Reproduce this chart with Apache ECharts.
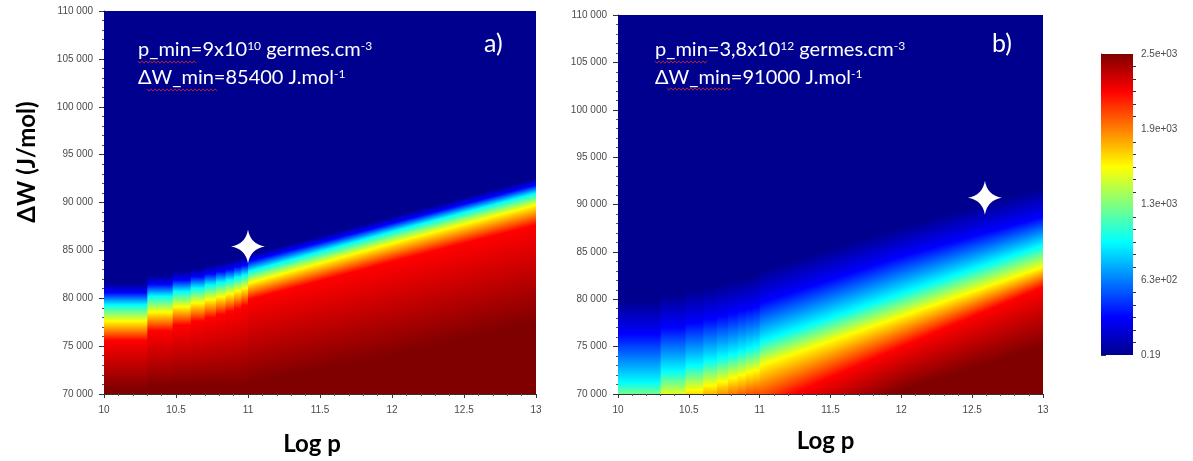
<!DOCTYPE html>
<html><head><meta charset="utf-8">
<script src="https://cdn.jsdelivr.net/npm/echarts@6/dist/echarts.min.js"></script>
<style>html,body{margin:0;padding:0;background:#fff}#c{width:1193px;height:461px}</style>
</head><body><div id="c"></div>
<script>
// ---------------- data ----------------
const colorMin = 0.19, colorMax = 2500;
const cbTickValues = [0.19, 625, 1250, 1875, 2500];
const cbTickLabels = ['0.19', '6.3e+02', '1.3e+03', '1.9e+03', '2.5e+03'];
// jet key colours and the colour-scale fraction at which each is reached
const levelFractions = [0, 0.125, 0.375, 0.625, 0.875, 1];
const jetColors = ['#00008F', '#0000FF', '#00FFFF', '#FFFF00', '#FF0000', '#800000'];

// Log p: stepped columns (p sampled every 1e10 germes/cm3) then a smooth part
const stepEdges = [10, 10.301, 10.477, 10.602, 10.699, 10.778, 10.845, 10.903, 10.954, 11];
const smoothX = [11, 12, 13];

// ΔW (J/mol) at which each jet key colour is reached (dark blue, blue, cyan, yellow, red, dark red)
const aStepContours = [
  [81600, 80600, 79300, 77600, 75600, 70500],
  [82400, 81450, 80200, 78550, 76600, 70800],
  [82850, 81900, 80700, 79100, 77200, 70900],
  [83150, 82250, 81050, 79500, 77600, 70900],
  [83450, 82550, 81380, 79850, 77950, 70900],
  [83700, 82800, 81660, 80150, 78300, 70900],
  [83900, 83000, 81900, 80450, 78600, 70900],
  [84100, 83250, 82170, 80750, 78900, 70900],
  [84300, 83450, 82420, 81050, 79250, 71000]
];
const aSmoothContours = [
  [84520, 83820, 82780, 81560, 79820, 71200],
  [88520, 87820, 86960, 85740, 83820, 74000],
  [92530, 91830, 90960, 89740, 87650, 77500]
];
const bStepContours = [
  [79800, 76300, 71200, 68600, 65500, 60000],
  [80500, 77000, 72400, 69700, 66600, 61000],
  [81000, 77500, 73000, 70400, 67300, 61700],
  [81300, 77900, 73500, 70900, 67800, 62200],
  [81600, 78200, 73900, 71300, 68200, 62600],
  [81900, 78500, 74200, 71700, 68500, 63000],
  [82100, 78800, 74500, 72000, 68700, 63300],
  [82300, 79000, 74800, 72300, 68900, 63600],
  [82500, 79200, 75000, 72500, 69000, 63800]
];
const bSmoothContours = [
  [83000, 79600, 75500, 73000, 68500, 64000],
  [87600, 84500, 80600, 78200, 75000, 70400],
  [91800, 88700, 85700, 83400, 81300, 75000]
];
const aMinPoint = [[11, 85400]];
const bMinPoint = [[12.59, 90700]];

// --------------- build segment tables ----------------
function segments(stepC, smoothC) {
  const out = [];
  for (let i = 0; i < stepC.length; i++) out.push([stepEdges[i], stepEdges[i + 1], ...stepC[i], ...stepC[i]]);
  for (let j = 0; j < smoothX.length - 1; j++) out.push([smoothX[j], smoothX[j + 1], ...smoothC[j], ...smoothC[j + 1]]);
  return out;
}
const Y_MIN = 70000, Y_MAX = 110000;
const EXT = 30000; // draw beyond the axis range; the series is clipped to the grid

// each segment: a column whose colour changes vertically through the jet key colours at the
// contour heights; segments with sloping contours are drawn as thin 1-px slices of straight edges
function renderField(params, api) {
  const x0 = api.value(0), x1 = api.value(1);
  const la = [], lb = [];
  for (let k = 0; k < 6; k++) { la.push(api.value(2 + k)); lb.push(api.value(8 + k)); }
  const flat = la.every((v, i) => v === lb[i]);
  const pxW = api.coord([x1, Y_MIN])[0] - api.coord([x0, Y_MIN])[0];
  const n = flat ? 1 : Math.max(1, Math.ceil(pxW));
  const children = [];
  for (let s = 0; s < n; s++) {
    const t0 = s / n, t1 = (s + 1) / n, tm = (t0 + t1) / 2;
    const xa = x0 + (x1 - x0) * t0, xb = x0 + (x1 - x0) * t1, xm = x0 + (x1 - x0) * tm;
    const pTop = api.coord([xa, Y_MAX + EXT]);
    const pBot = api.coord([xb, Y_MIN - EXT]);
    const H = pBot[1] - pTop[1];
    let prev = 0;
    const stops = la.map((v, k) => {
      const y = api.coord([xm, v + (lb[k] - v) * tm])[1];
      let off = Math.min(1, Math.max(prev, (y - pTop[1]) / H));
      prev = off;
      return { offset: off, color: jetColors[k] };
    });
    children.push({ type: 'rect',
      shape: { x: pTop[0], y: pTop[1], width: pBot[0] - pTop[0] + 1.5, height: H },
      style: { fill: { type: 'linear', global: true, x: 0, y: pTop[1], x2: 0, y2: pBot[1], colorStops: stops } } });
  }
  return { type: 'group', children: children };
}

function renderColorbar(params, api) {
  const p1 = api.coord([api.value(0), api.value(3)]);
  const p2 = api.coord([api.value(1), api.value(2)]);
  const stops = levelFractions.map((f, i) => ({ offset: 1 - f, color: jetColors[i] })).reverse();
  return { type: 'rect', shape: { x: p1[0], y: p1[1], width: p2[0] - p1[0], height: p2[1] - p1[1] },
    style: { fill: { type: 'linear', global: true, x: 0, y: p1[1], x2: 0, y2: p2[1], colorStops: stops } } };
}

const fmtThousands = v => String(v).replace(/\B(?=(\d{3})+(?!\d))/g, ' ');
const tickFont = { fontFamily: 'Liberation Sans', fontSize: 10, color: '#4a4a4a' };
const axisLineStyle = { color: '#333', width: 1 };

function xAxisDef(gi, gap, pad) {
  return { type: 'value', gridIndex: gi, min: 10, max: 13, interval: 0.5,
    name: 'Log p', nameLocation: 'middle', nameGap: gap,
    nameTextStyle: { fontFamily: 'Lato', fontWeight: 'bold', fontSize: 24, color: '#000', padding: [0, pad, 0, 0] },
    axisLine: { show: true, onZero: false, lineStyle: axisLineStyle },
    axisTick: { show: true, length: 4, lineStyle: axisLineStyle },
    minorTick: { show: true, splitNumber: 5, length: 2, lineStyle: { color: '#555' } },
    splitLine: { show: false }, minorSplitLine: { show: false },
    axisLabel: Object.assign({ margin: 11, formatter: v => String(v) }, tickFont) };
}
function yAxisDef(gi) {
  return { type: 'value', gridIndex: gi, min: Y_MIN, max: Y_MAX, interval: 5000,
    axisLine: { show: true, onZero: false, lineStyle: axisLineStyle },
    axisTick: { show: true, length: 5, lineStyle: axisLineStyle },
    minorTick: { show: true, splitNumber: 5, length: 2, lineStyle: { color: '#555' } },
    splitLine: { show: false }, minorSplitLine: { show: false },
    axisLabel: Object.assign({ margin: 11, formatter: fmtThousands }, tickFont) };
}

// colorbar minor tick values (6 subdivisions per labelled interval)
const cbMinor = [];
for (let i = 0; i < cbTickValues.length - 1; i++) {
  for (let s = 1; s < 6; s++) cbMinor.push(cbTickValues[i] + (cbTickValues[i + 1] - cbTickValues[i]) * s / 6);
}

function squiggle(x0, x1, y) {
  const pts = [];
  for (let x = x0, k = 0; x <= x1; x += 2, k++) pts.push([x, y + (k % 2 ? 1.2 : -1.2)]);
  return { type: 'polyline', shape: { points: pts }, style: { stroke: '#d03030', lineWidth: 0.8, fill: null }, z: 100 };
}
const richStyle = {
  t: { fontFamily: 'Lato', fontSize: 20, fill: '#fff' },
  s: { fontFamily: 'Lato', fontSize: 12, fill: '#fff', verticalAlign: 'top' }
};
function annText(x, y, text) {
  return { type: 'text', x: x, y: y, z: 100,
    style: { text: text, rich: richStyle, fill: '#fff', fontFamily: 'Lato', fontSize: 20 } };
}

const chart = echarts.init(document.getElementById('c'), null, { renderer: 'canvas' });
const starPath = 'path://M0,-16 Q2.2,-2.2 16,0 Q2.2,2.2 0,16 Q-2.2,2.2 -16,0 Q-2.2,-2.2 0,-16 Z';

chart.setOption({
  animation: false,
  backgroundColor: '#fff',
  grid: [
    { left: 104, top: 11, width: 432, height: 383 },
    { left: 618, top: 15, width: 425, height: 379 },
    { left: 1101, top: 54, width: 32, height: 301 }
  ],
  xAxis: [
    xAxisDef(0, 38, 16),
    xAxisDef(1, 35, 10),
    { type: 'value', gridIndex: 2, min: 0, max: 1, show: false }
  ],
  yAxis: [
    yAxisDef(0),
    yAxisDef(1),
    { type: 'value', gridIndex: 2, min: colorMin, max: colorMax, position: 'right',
      axisLine: { show: true, lineStyle: { color: '#333', width: 1 } },
      axisTick: { show: true, length: 5, customValues: cbTickValues, lineStyle: { color: '#333' } },
      splitLine: { show: false },
      axisLabel: Object.assign({ margin: 8, customValues: cbTickValues,
        formatter: v => cbTickLabels[cbTickValues.indexOf(v)] ?? '' }, tickFont) },
    { type: 'value', gridIndex: 2, min: colorMin, max: colorMax, position: 'right',
      axisLine: { show: false },
      axisTick: { show: true, length: 3, customValues: cbMinor, lineStyle: { color: '#333' } },
      splitLine: { show: false },
      axisLabel: { show: false } }
  ],
  series: [
    { type: 'custom', xAxisIndex: 0, yAxisIndex: 0, clip: true, renderItem: renderField,
      data: segments(aStepContours, aSmoothContours), silent: true },
    { type: 'custom', xAxisIndex: 1, yAxisIndex: 1, clip: true, renderItem: renderField,
      data: segments(bStepContours, bSmoothContours), silent: true },
    { type: 'custom', xAxisIndex: 2, yAxisIndex: 2, clip: true, renderItem: renderColorbar,
      data: [[0, 1, colorMin, colorMax]], silent: true },
    { type: 'scatter', xAxisIndex: 0, yAxisIndex: 0, data: aMinPoint, symbol: starPath, symbolSize: 34,
      itemStyle: { color: '#fff', opacity: 1 }, z: 10, silent: true },
    { type: 'scatter', xAxisIndex: 1, yAxisIndex: 1, data: bMinPoint, symbol: starPath, symbolSize: 34,
      itemStyle: { color: '#fff', opacity: 1 }, z: 10, silent: true }
  ],
  graphic: [
    { type: 'text', x: 27, y: 162, rotation: Math.PI / 2, z: 100,
      style: { text: 'ΔW (J/mol)', fill: '#000', fontFamily: 'Lato', fontWeight: 'bold', fontSize: 24,
        align: 'center', verticalAlign: 'middle' } },
    annText(138, 40, '{t|p_min=9x10}{s|10}{t| germes.cm}{s|-3}'),
    annText(138, 68, '{t|ΔW_min=85400 J.mol}{s|-1}'),
    { type: 'text', x: 484, y: 31, z: 100, style: { text: 'a)', fill: '#fff', fontFamily: 'Lato', fontSize: 25 } },
    annText(655, 40, '{t|p_min=3,8x10}{s|12}{t| germes.cm}{s|-3}'),
    annText(655, 68, '{t|ΔW_min=91000 J.mol}{s|-1}'),
    { type: 'text', x: 992, y: 31, z: 100, style: { text: 'b)', fill: '#fff', fontFamily: 'Lato', fontSize: 25 } },
    squiggle(138, 197, 62), squiggle(147, 217, 90),
    squiggle(655, 708, 62), squiggle(667, 732, 89)
  ]
});
</script>
</body></html>
